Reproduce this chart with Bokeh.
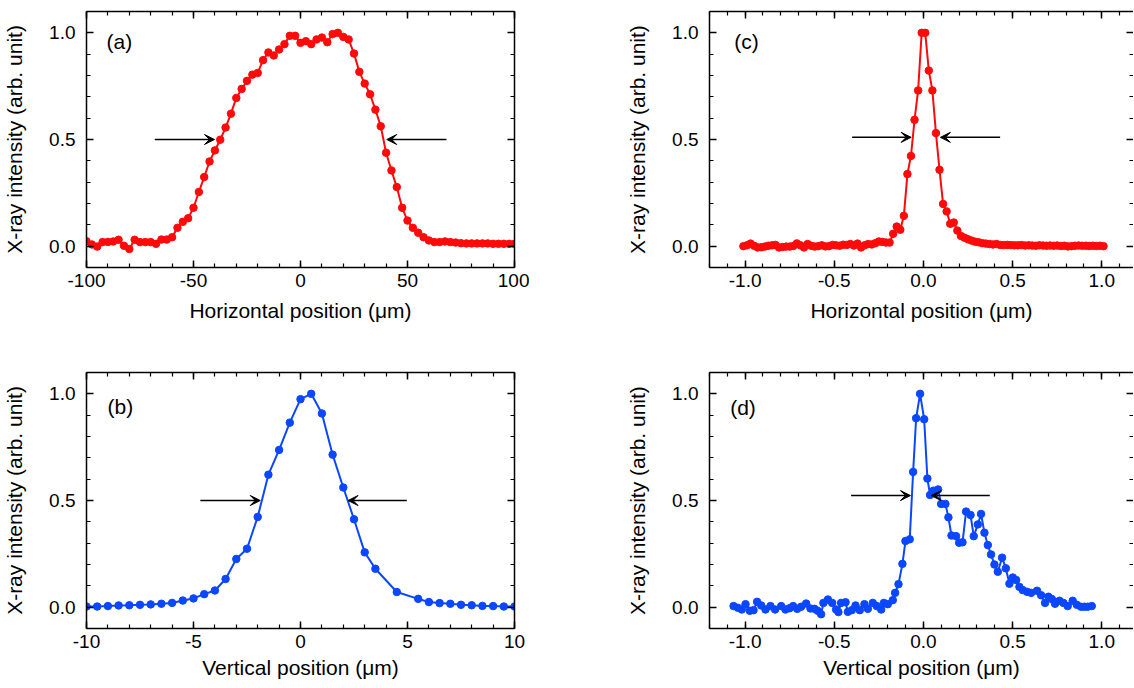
from bokeh.plotting import figure
from bokeh.layouts import column, row
from bokeh.models import (Range1d, LinearAxis, SingleIntervalTicker, NumeralTickFormatter,
                          CustomJSTickFormatter, Arrow, VeeHead, ColumnDataSource)
from bokeh.core.properties import value
from bokeh.embed import file_html
from bokeh.resources import INLINE

# ---------------- data ----------------
a_x = [-100, -97.5, -95, -92.5, -90, -87.5, -85, -82.5, -80, -77.5, -75, -72.5, -70, -67.5, -65,
       -62.5, -60, -57.5, -55, -52.5, -50, -47.5, -45, -42.5, -40, -37.5, -35, -32.5, -30, -27.5,
       -25, -22.5, -20, -17.5, -15, -12.5, -10, -7.5, -5, -2.5, 0, 2.5, 5, 7.5, 10, 12.5, 15, 17.5,
       20, 22.5, 25, 27.5, 30, 32.5, 35, 37.5, 40, 42.5, 45, 47.5, 50, 52.5, 55, 57.5, 60, 62.5, 65,
       67.5, 70, 72.5, 75, 77.5, 80, 82.5, 85, 87.5, 90, 92.5, 95, 97.5, 100]
a_y = [0.023, 0.008, -0.002, 0.019, 0.020, 0.022, 0.030, 0.002, -0.013, 0.030,
       0.019, 0.019, 0.019, 0.011, 0.031, 0.031, 0.042, 0.086, 0.114, 0.131,
       0.180, 0.254, 0.324, 0.397, 0.449, 0.499, 0.556, 0.621, 0.695, 0.737,
       0.775, 0.804, 0.812, 0.872, 0.908, 0.894, 0.922, 0.947, 0.986, 0.986,
       0.953, 0.961, 0.947, 0.969, 0.978, 0.956, 0.994, 1.000, 0.981, 0.969,
       0.903, 0.817, 0.762, 0.712, 0.640, 0.562, 0.438, 0.355, 0.277, 0.180,
       0.120, 0.086, 0.063, 0.042, 0.027, 0.019, 0.019, 0.022, 0.019, 0.017,
       0.014, 0.013, 0.013, 0.013, 0.013, 0.013, 0.011, 0.011, 0.011, 0.011, 0.011]

b_x = [-10, -9.5, -9, -8.5, -8, -7.5, -7, -6.5, -6, -5.5, -5, -4.5, -4, -3.5, -3, -2.5, -2, -1.5,
       -1, -0.5, 0, 0.5, 1, 1.5, 2, 2.5, 3, 3.5, 4.5, 5.5, 6, 6.5, 7, 7.5, 8, 8.5, 9, 9.5, 10]
b_y = [0.003, 0.003, 0.005, 0.008, 0.009, 0.011, 0.013, 0.016, 0.020, 0.031, 0.041, 0.061,
       0.078, 0.132, 0.226, 0.274, 0.423, 0.621, 0.737, 0.865, 0.975, 1.000, 0.908, 0.715,
       0.561, 0.412, 0.257, 0.180, 0.071, 0.039, 0.024, 0.019, 0.016, 0.011, 0.009, 0.006,
       0.005, 0.003, 0.003]

c_x = [-1.01, -0.99, -0.97, -0.95, -0.93, -0.91, -0.89, -0.87, -0.85, -0.83, -0.81, -0.79, -0.77,
       -0.75, -0.73, -0.71, -0.69, -0.67, -0.65, -0.63, -0.61, -0.59, -0.57, -0.55, -0.53, -0.51,
       -0.49, -0.47, -0.45, -0.43, -0.41, -0.39, -0.37, -0.35, -0.33, -0.31, -0.29, -0.27, -0.25,
       -0.23, -0.21, -0.19, -0.17, -0.15, -0.13, -0.11, -0.09, -0.07, -0.05, -0.03, -0.01, 0.01,
       0.03, 0.05, 0.07, 0.09, 0.11, 0.13, 0.15, 0.17, 0.19, 0.21, 0.23, 0.25, 0.27, 0.29, 0.31,
       0.33, 0.35, 0.37, 0.39, 0.41, 0.43, 0.45, 0.47, 0.49, 0.51, 0.53, 0.55, 0.57, 0.59, 0.61,
       0.63, 0.65, 0.67, 0.69, 0.71, 0.73, 0.75, 0.77, 0.79, 0.81, 0.83, 0.85, 0.87, 0.89, 0.91,
       0.93, 0.95, 0.97, 0.99, 1.01]
c_y = [0.000, 0.004, 0.012, 0.002, -0.006, -0.005, -0.002, 0.002, 0.004, 0.006,
       -0.006, -0.004, -0.002, -0.002, 0.001, 0.013, 0.004, -0.006, 0.010, 0.002,
       -0.002, 0.000, 0.004, -0.001, 0.000, 0.006, 0.004, 0.002, 0.007, 0.006,
       0.010, 0.003, 0.012, -0.006, 0.004, 0.010, 0.008, 0.014, 0.022, 0.020, 0.017,
       0.017, 0.058, 0.092, 0.077, 0.142, 0.338, 0.423, 0.592, 0.730, 1.000, 1.000,
       0.823, 0.730, 0.530, 0.358, 0.198, 0.163, 0.105, 0.111, 0.073, 0.048,
       0.040, 0.032, 0.026, 0.021, 0.018, 0.014, 0.012, 0.010, 0.008, 0.010,
       0.006, 0.005, 0.006, 0.005, 0.004, 0.004, 0.005, 0.003, 0.004, 0.003,
       0.002, 0.004, 0.003, 0.002, 0.003, 0.002, 0.003, 0.001, 0.002, -0.001,
       0.000, 0.002, 0.003, 0.002, 0.002, 0.001, 0.002, 0.001, 0.002, 0.000]

d_x = [-1.065, -1.041, -1.019, -0.998, -0.974, -0.953, -0.933, -0.910, -0.886, -0.858,
       -0.832, -0.798, -0.774, -0.751, -0.731, -0.708, -0.686, -0.658, -0.634, -0.611,
       -0.593, -0.574, -0.561, -0.536, -0.512, -0.490, -0.477, -0.462, -0.437, -0.424,
       -0.402, -0.381, -0.357, -0.331, -0.312, -0.284, -0.262, -0.237, -0.222, -0.200,
       -0.172, -0.159, -0.140, -0.118, -0.101, -0.077, -0.058, -0.041, -0.019, 0.004,
       0.022, 0.037, 0.056, 0.082, 0.099, 0.123, 0.140, 0.157, 0.183, 0.200,
       0.219, 0.239, 0.264, 0.282, 0.305, 0.323, 0.342, 0.361, 0.379, 0.398,
       0.417, 0.441, 0.462, 0.482, 0.501, 0.520, 0.538, 0.557, 0.581, 0.604,
       0.637, 0.660, 0.682, 0.701, 0.720, 0.738, 0.763, 0.785, 0.809, 0.837,
       0.860, 0.884, 0.903, 0.921, 0.944]
d_y = [0.005, -0.003, -0.011, 0.014, -0.017, -0.014, 0.025, 0.008, -0.011, 0.005,
       -0.011, 0.005, -0.011, -0.005, 0.005, -0.008, 0.002, 0.017, -0.006, -0.008,
       -0.017, -0.033, 0.020, 0.036, 0.020, -0.011, -0.023, 0.020, 0.023, -0.022,
       -0.014, 0.008, -0.014, 0.014, -0.008, 0.020, 0.005, -0.011, 0.020, 0.014,
       0.033, 0.067, 0.108, 0.203, 0.310, 0.318, 0.634, 0.886, 1.000, 0.881,
       0.603, 0.526, 0.546, 0.552, 0.484, 0.484, 0.421, 0.336, 0.333, 0.302,
       0.304, 0.448, 0.432, 0.333, 0.388, 0.437, 0.349, 0.291, 0.247, 0.200,
       0.166, 0.232, 0.182, 0.110, 0.139, 0.127, 0.095, 0.080, 0.072, 0.067,
       0.077, 0.056, 0.020, 0.049, 0.038, 0.016, 0.030, 0.020, 0.005, 0.030,
       0.011, 0.002, 0.002, 0.002, 0.005]

# FWHM arrows (start x, end x, y)
a_arrow_x0 = [-68.1, 68.2]
a_arrow_x1 = [-40.2, 40.3]
a_arrow_y = [0.5, 0.5]
b_arrow_x0 = [-4.68, 4.97]
b_arrow_x1 = [-1.88, 2.22]
b_arrow_y = [0.5, 0.5]
c_arrow_x0 = [-0.40, 0.43]
c_arrow_x1 = [-0.069, 0.095]
c_arrow_y = [0.51, 0.51]
d_arrow_x0 = [-0.406, 0.372]
d_arrow_x1 = [-0.073, 0.043]
d_arrow_y = [0.523, 0.523]

panel_labels = ["(a)", "(b)", "(c)", "(d)"]
label_pos = [(-90.6, 0.958), (-9.02, 0.94), (-1.061, 0.958), (-1.084, 0.934)]

RED = "#FF0A0A"
BLUE = "#0A47FF"
FONT = "Liberation Sans"
Y_TITLE = "X-ray intensity (arb. unit)"


def style_axis(ax, ticker, fmt, label_standoff):
    ax.ticker = ticker
    ax.formatter = fmt
    ax.major_tick_in = 7
    ax.major_tick_out = 0
    ax.minor_tick_in = 4
    ax.minor_tick_out = 0
    ax.axis_line_width = 1.5
    ax.major_tick_line_width = 1.5
    ax.minor_tick_line_width = 1.2
    ax.axis_line_color = "black"
    ax.major_tick_line_color = "black"
    ax.minor_tick_line_color = "black"
    ax.major_label_text_font = FONT
    ax.major_label_text_font_size = "19px"
    ax.major_label_text_color = "black"
    ax.major_label_standoff = label_standoff
    ax.axis_label_text_font = FONT
    ax.axis_label_text_font_size = "21px"
    ax.axis_label_text_font_style = "normal"
    ax.axis_label_text_color = "black"


def mirror_axis(p, ticker, side, show_line=True):
    ax = LinearAxis(ticker=ticker, formatter=CustomJSTickFormatter(code="return ''"))
    ax.major_tick_in = 7
    ax.major_tick_out = 0
    ax.minor_tick_in = 4
    ax.minor_tick_out = 0
    ax.axis_line_width = 1.5
    ax.major_tick_line_width = 1.5
    ax.minor_tick_line_width = 1.2
    ax.axis_line_color = "black" if show_line else None
    ax.major_label_text_font_size = "0px"
    ax.major_label_standoff = 0
    p.add_layout(ax, side)


def panel(xs, ys, color, xr, xint, xfmt, xtitle, arrows, label, lpos,
          fw, bl, br, bt, bb, xlab_standoff, right_line=True):
    p = figure(frame_width=fw, frame_height=256,
               x_range=Range1d(*xr), y_range=Range1d(-0.1, 1.1),
               output_backend="svg", toolbar_location=None,
               min_border_left=bl, min_border_right=br,
               min_border_top=bt, min_border_bottom=bb,
               background_fill_color="white", border_fill_color="white")
    p.outline_line_color = None
    p.xgrid.grid_line_color = None
    p.ygrid.grid_line_color = None

    xt = SingleIntervalTicker(interval=xint, num_minor_ticks=5)
    yt = SingleIntervalTicker(interval=0.5, num_minor_ticks=5)
    style_axis(p.xaxis[0], xt, NumeralTickFormatter(format=xfmt), 6)
    style_axis(p.yaxis[0], yt, NumeralTickFormatter(format="0.0"), 11)
    p.xaxis[0].axis_label = xtitle
    p.xaxis[0].axis_label_standoff = xlab_standoff
    p.yaxis[0].axis_label = Y_TITLE
    p.yaxis[0].axis_label_standoff = 20
    mirror_axis(p, xt, "above")
    mirror_axis(p, yt, "right", right_line)

    src = ColumnDataSource(dict(x=xs, y=ys))
    p.line("x", "y", source=src, line_color=color, line_width=2)
    p.scatter("x", "y", source=src, size=7.5, fill_color=color, line_color=color)

    x0, x1, yy = arrows
    for s, e, y in zip(x0, x1, yy):
        p.add_layout(Arrow(x_start=s, x_end=e, y_start=y, y_end=y, line_width=1.5,
                           line_color="black",
                           end=VeeHead(size=10, fill_color="black", line_color="black",
                                       line_width=1)))

    p.text(x=[lpos[0]], y=[lpos[1]], text=[label], text_font=value(FONT),
           text_font_size="21px", text_baseline="middle", text_align="left",
           text_color="black")
    return p


pa = panel(a_x, a_y, RED, (-100, 100), 50, "0", "Horizontal position (μm)",
           (a_arrow_x0, a_arrow_x1, a_arrow_y), panel_labels[0], label_pos[0],
           428, 85, 15, 11, 60, 9)
pc = panel(c_x, c_y, RED, (-1.2, 1.178), 0.5, "0.0", "Horizontal position (μm)",
           (c_arrow_x0, c_arrow_x1, c_arrow_y), panel_labels[2], label_pos[2],
           424, 180, 0, 11, 60, 9, right_line=False)
pb = panel(b_x, b_y, BLUE, (-10, 10), 5, "0", "Vertical position (μm)",
           (b_arrow_x0, b_arrow_x1, b_arrow_y), panel_labels[1], label_pos[1],
           428, 85, 15, 45, 58, 5)
pd = panel(d_x, d_y, BLUE, (-1.2, 1.178), 0.5, "0.0", "Vertical position (μm)",
           (d_arrow_x0, d_arrow_x1, d_arrow_y), panel_labels[3], label_pos[3],
           424, 180, 0, 45, 58, 5, right_line=False)

layout = column(row(pa, pc), row(pb, pd))
open("out.html", "w").write(file_html(layout, INLINE))
